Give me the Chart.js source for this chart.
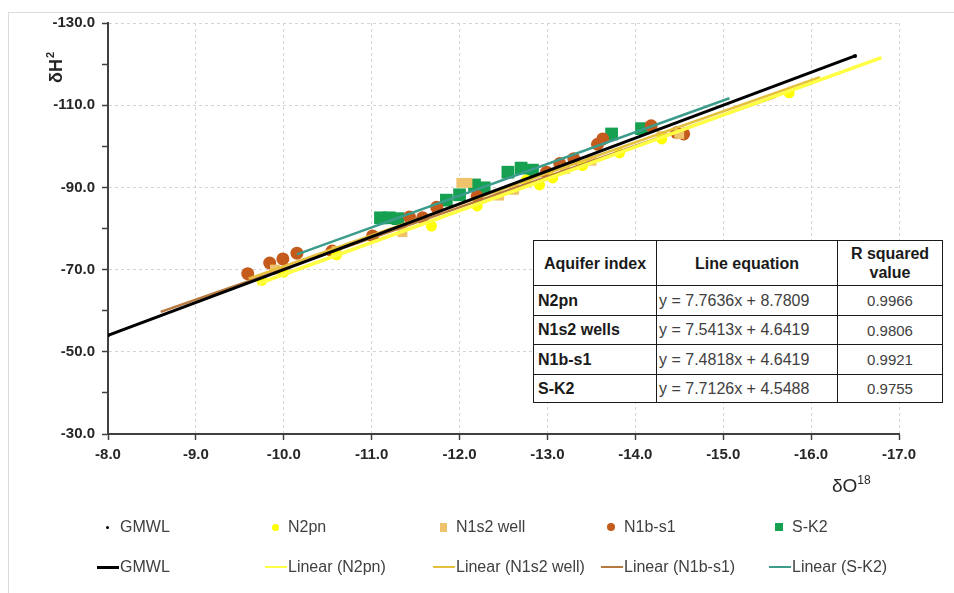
<!DOCTYPE html>
<html><head><meta charset="utf-8">
<script src="https://cdn.jsdelivr.net/npm/chart.js@4.4.0/dist/chart.umd.min.js"></script>
<style>
html,body{margin:0;padding:0;background:#fff;}
#wrap{position:relative;width:954px;height:593px;overflow:hidden;background:#fff;}
#frame{position:absolute;left:8px;top:12px;width:980px;height:620px;border:1px solid #dcdcdc;box-sizing:border-box;}
#c{position:absolute;left:0;top:0;}
#tbl{position:absolute;left:533px;top:240px;border-collapse:collapse;background:#fff;font-family:'Liberation Sans',Arial,sans-serif;table-layout:fixed;}
#tbl td{border:1.5px solid #1a1a1a;padding:0;font-size:16px;color:#404040;white-space:nowrap;overflow:hidden;}
#tbl tr.h td{font-weight:bold;color:#1a1a1a;text-align:center;line-height:19px;}
#tbl td.k{font-weight:bold;color:#1a1a1a;padding-left:4px;}
#tbl td.e{padding-left:2px;}
#tbl td.r{text-align:center;font-size:15px;}
.lg{position:absolute;font-family:'Liberation Sans',Arial,sans-serif;font-size:16px;color:#404040;line-height:20px;white-space:nowrap;}
.mk{position:absolute;}
</style></head>
<body><div id="wrap"><div id="frame"></div><canvas id="c" width="954" height="593"></canvas><table id="tbl"></table><div id="legend"></div></div>
<script>
// ---- data ----
const gmwlX = [-8.0, -16.5];
const gmwlY = [-54.0, -122.0];

const n2pnX = [-9.75, -10.0, -10.6, -11.68, -12.2, -12.76, -12.91, -13.06, -13.4, -13.82, -14.3, -15.75];
const n2pnY = [-67.4, -69.4, -73.6, -80.6, -85.5, -91.8, -90.6, -92.3, -95.3, -98.4, -101.8, -113.0];

const n1s2X = [-9.9, -10.6, -11.35, -12.02, -12.09, -12.45, -12.62, -13.2, -13.5, -14.3, -14.5];
const n1s2Y = [-70.0, -74.5, -79.1, -91.1, -91.1, -88.0, -89.4, -94.5, -96.5, -102.5, -103.0];

const n1bX = [-9.59, -9.84, -9.99, -10.15, -10.55, -11.01, -11.43, -11.58, -11.74, -12.2, -12.99, -13.14, -13.3, -13.57, -13.63, -14.18, -14.47, -14.55];
const n1bY = [-69.0, -71.6, -72.6, -74.0, -74.5, -78.2, -82.8, -82.6, -85.2, -87.8, -93.7, -95.8, -97.0, -100.5, -101.8, -105.0, -103.3, -103.0];

const sk2X = [-11.1, -11.2, -11.3, -11.85, -12.0, -12.17, -12.28, -12.55, -12.7, -12.83, -13.73, -14.07];
const sk2Y = [-82.6, -82.6, -82.4, -86.9, -88.2, -90.6, -89.9, -93.7, -94.7, -94.2, -103.0, -104.3];

// trend line end points
const n2pnFitX = [-9.7, -16.8];
const n2pnFitY = [-66.5, -121.6];
const n1s2FitX = [-9.6, -16.1];
const n1s2FitY = [-67.8, -116.8];
const n1bFitX = [-8.6, -15.6];
const n1bFitY = [-59.7, -112.1];
const sk2FitX = [-10.15, -15.07];
const sk2FitY = [-73.7, -111.7];

const xTicks = [-8, -9, -10, -11, -12, -13, -14, -15, -16, -17];
const yTicks = [-130, -110, -90, -70, -50, -30];

const pointLabels = ['GMWL', 'N2pn', 'N1s2 well', 'N1b-s1', 'S-K2'];
const lineLabels = ['GMWL', 'Linear (N2pn)', 'Linear (N1s2 well)', 'Linear (N1b-s1)', 'Linear (S-K2)'];

const tableHead = ['Aquifer index', 'Line equation', 'R squared<br>value'];
const tableIndex = ['N2pn', 'N1s2 wells', 'N1b-s1', 'S-K2'];
const tableEq = ['y = 7.7636x + 8.7809', 'y = 7.5413x + 4.6419', 'y = 7.4818x + 4.6419', 'y = 7.7126x + 4.5488'];
const tableR2 = ['0.9966', '0.9806', '0.9921', '0.9755'];

// ---- build ----
const pts = (xs, ys) => xs.map((x, i) => ({x, y: ys[i]}));
const pointColors = ['#000000', '#FFFF00', '#EFC36C', '#C45A1C', '#16A051'];
const pointStyles = ['circle', 'circle', 'rect', 'circle', 'rect'];
const pointRadii = [2, 5.5, 7, 6.5, 9];
const lineColors = ['#000000', '#FFFF44', '#E5C03C', '#B8793F', '#3C9C8C'];
const lineWidths = [3, 3.5, 2.5, 2.5, 2.5];

const ptData = [pts(gmwlX, gmwlY), pts(n2pnX, n2pnY), pts(n1s2X, n1s2Y), pts(n1bX, n1bY), pts(sk2X, sk2Y)];
const lnData = [pts(gmwlX, gmwlY), pts(n2pnFitX, n2pnFitY), pts(n1s2FitX, n1s2FitY), pts(n1bFitX, n1bFitY), pts(sk2FitX, sk2FitY)];

const datasets = [];
ptData.forEach((d, i) => datasets.push({
  label: pointLabels[i], data: d, showLine: false, order: 2,
  pointStyle: pointStyles[i], pointRadius: pointRadii[i], pointBackgroundColor: pointColors[i],
  pointBorderWidth: 0, pointBorderColor: pointColors[i], backgroundColor: pointColors[i]
}));
lnData.forEach((d, i) => datasets.push({
  label: lineLabels[i], data: d, showLine: true, order: i === 0 ? 0 : 1,
  borderColor: lineColors[i], borderWidth: lineWidths[i], pointRadius: 0, fill: false
}));

const FONT = "'Liberation Sans', Arial, sans-serif";

const titles = {
  id: 'titles',
  afterDraw(chart) {
    const c = chart.ctx;
    c.save();
    c.fillStyle = '#262626';
    // y title
    c.translate(57, 83);
    c.rotate(-Math.PI / 2);
    c.font = 'bold 18px ' + FONT;
    c.textBaseline = 'middle';
    c.textAlign = 'left';
    c.fillText('δH', 0, 0);
    const w = c.measureText('δH').width;
    c.font = 'bold 11px ' + FONT;
    c.fillText('2', w + 1, -6);
    c.restore();
    // x title
    c.save();
    c.fillStyle = '#262626';
    c.font = '19px ' + FONT;
    c.textBaseline = 'middle';
    c.textAlign = 'left';
    c.fillText('δO', 832, 487);
    const w2 = c.measureText('δO').width;
    c.font = '12px ' + FONT;
    c.fillText('18', 832 + w2, 481);
    c.restore();
  }
};

new Chart(document.getElementById('c'), {
  type: 'scatter',
  data: {datasets},
  options: {
    responsive: false, animation: false, devicePixelRatio: 1,
    layout: {padding: {left: 0, top: 23, right: 55, bottom: 129}},
    plugins: {legend: {display: false}, tooltip: {enabled: false}},
    scales: {
      x: {
        type: 'linear', reverse: true, min: -17, max: -8,
        afterBuildTicks: s => { s.ticks = xTicks.map(v => ({value: v})); },
        afterFit: s => { s.height = 30; },
        ticks: {callback: v => Number(v).toFixed(1), font: {family: FONT, size: 15, weight: 'bold'}, color: '#262626', padding: 6, maxRotation: 0},
        grid: {color: '#d4d4d4', lineWidth: 1, tickColor: '#404040', tickLength: 6, tickWidth: 1.5},
        border: {color: '#404040', width: 2, dash: [3, 3]}
      },
      y: {
        type: 'linear', reverse: true, min: -130, max: -30,
        afterBuildTicks: s => {
          const t = [];
          for (let i = 0; i < yTicks.length; i++) {
            t.push({value: yTicks[i], major: true});
            if (i < yTicks.length - 1) t.push({value: (yTicks[i] + yTicks[i + 1]) / 2, major: false});
          }
          s.ticks = t;
        },
        afterFit: s => { s.width = 108; },
        ticks: {
          callback: v => (yTicks.includes(v) ? Number(v).toFixed(1) : ''),
          font: {family: FONT, size: 15, weight: 'bold'}, color: '#262626', padding: 7
        },
        grid: {
          color: c => (c.tick && yTicks.includes(c.tick.value) ? '#d4d4d4' : 'rgba(0,0,0,0)'),
          lineWidth: 1, tickColor: '#404040', tickLength: 6, tickWidth: 1.5
        },
        border: {color: '#404040', width: 2, dash: [3, 3]}
      }
    }
  },
  plugins: [titles]
});

// ---- table ----
const tbl = document.getElementById('tbl');
const colW = [123, 181, 105];
const rowH = [45, 30, 29, 30, 28];
let html = '<colgroup>' + colW.map(w => '<col style="width:' + w + 'px">').join('') + '</colgroup>';
html += '<tr class="h" style="height:' + rowH[0] + 'px">' + tableHead.map(t => '<td>' + t + '</td>').join('') + '</tr>';
tableIndex.forEach((k, i) => {
  html += '<tr style="height:' + rowH[i + 1] + 'px"><td class="k">' + k + '</td><td class="e">' + tableEq[i] + '</td><td class="r">' + tableR2[i] + '</td></tr>';
});
tbl.innerHTML = html;

// ---- legend ----
const lg = document.getElementById('legend');
const colX = [97, 265, 433, 601, 769];
const markerSize = [[3, 3], [7, 7], [7, 9], [8, 8], [8, 8]];
pointLabels.forEach((t, i) => {
  const m = document.createElement('div');
  m.className = 'mk';
  const [w, h] = markerSize[i];
  m.style.cssText = 'left:' + (colX[i] + 10 - w / 2) + 'px;top:' + (527 - h / 2) + 'px;width:' + w + 'px;height:' + h + 'px;background:' + pointColors[i] + ';border-radius:' + (pointStyles[i] === 'circle' ? '50%' : '0');
  lg.appendChild(m);
  const s = document.createElement('div');
  s.className = 'lg';
  s.style.left = (colX[i] + 23) + 'px';
  s.style.top = (527 - 10) + 'px';
  s.textContent = t;
  lg.appendChild(s);
});
lineLabels.forEach((t, i) => {
  const m = document.createElement('div');
  m.className = 'mk';
  const lw = i === 0 ? 3 : 2;
  m.style.cssText = 'left:' + colX[i] + 'px;top:' + (567 - lw / 2) + 'px;width:22px;height:' + lw + 'px;background:' + lineColors[i];
  lg.appendChild(m);
  const s = document.createElement('div');
  s.className = 'lg';
  s.style.left = (colX[i] + 23) + 'px';
  s.style.top = (567 - 10) + 'px';
  s.textContent = t;
  lg.appendChild(s);
});
</script>
</body></html>
